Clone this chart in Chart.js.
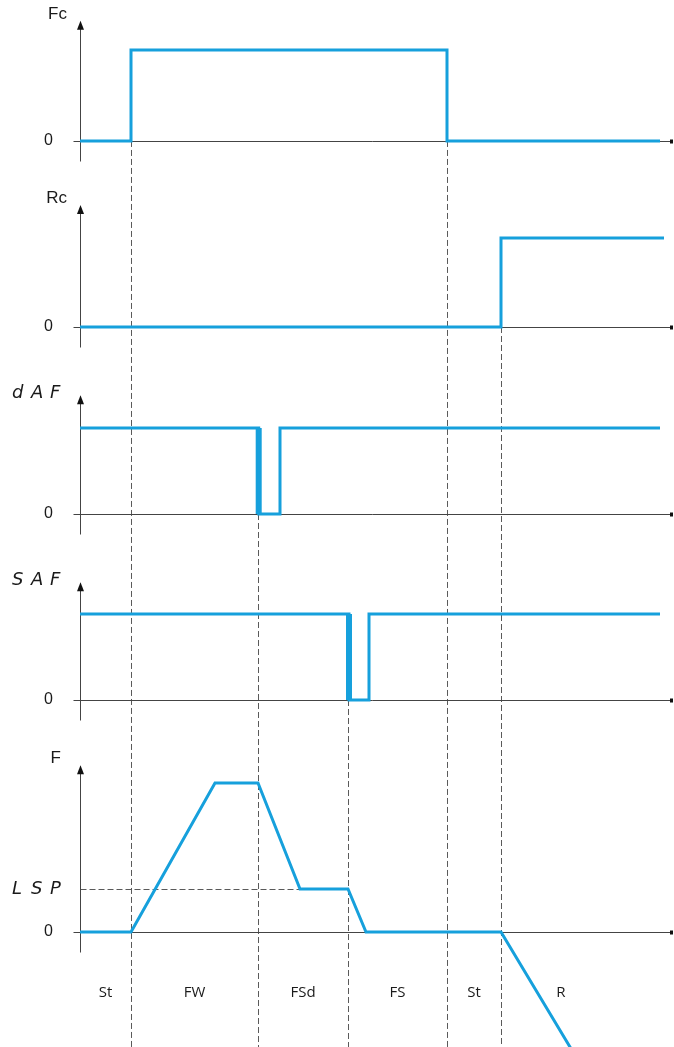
<!DOCTYPE html>
<html>
<head>
<meta charset="utf-8">
<script src="https://cdn.jsdelivr.net/npm/chart.js@4/dist/chart.umd.min.js"></script>
<style>
  html, body { margin: 0; padding: 0; background: #fff; }
  #wrap { width: 674px; height: 1047px; }
</style>
</head>
<body>
<div id="wrap"><canvas id="timing" width="674" height="1047"></canvas></div>
<script>
// time is in arbitrary units, 0 = the vertical axis. levels: 0 = off, 1 = on / top speed
const fcTime   = [0, 5.1, 5.1, 36.7, 36.7, 58.0];
const fcLevel  = [0, 0,   1,   1,    0,    0];

const rcTime   = [0, 42.1, 42.1, 58.4];
const rcLevel  = [0, 0,    1,    1];

const dafTime  = [0, 17.87, 17.87, 20.0, 20.0, 58.0];
const dafLevel = [1, 1,     0,     0,    1,    1];
const dafEdge  = [17.87, 17.87];   // the falling edge is drawn heavier

const safTime  = [0, 26.9, 26.9, 28.9, 28.9, 58.0];
const safLevel = [1, 1,    0,    0,    1,    1];
const safEdge  = [26.9, 26.9];
const edgeLevel = [1, 0];

const lspLevel = 0.289;
const fTime    = [0, 5.1, 13.5, 17.8, 22.0,     26.8,     28.6, 42.1, 49.0,   51.0];
const fLevel   = [0, 0,   1,    1,    lspLevel, lspLevel, 0,    0,    -0.772, -1.0];

// phases along the bottom (label sits in the middle of each span)
const phaseNames = ["St", "FW", "FSd", "FS", "St", "R"];
const phaseEdges = [0, 5.1, 17.8, 26.8, 36.7, 42.1, 54.1];

// dashed event lines: time and the panel where the change starts
const eventTimes  = [5.1, 17.8, 26.8, 36.7, 42.1];
const eventPanels = ["fc", "daf", "saf", "fc", "rc"];

// panel layout (axis ids, titles, axis ranges)
const panels = [
  { id: "fc",  title: "Fc",  seg: false, min: -0.374, max: 1.549, top: 1.32, h: 175, w: 5 },
  { id: "rc",  title: "Rc",  seg: false, min: -0.382, max: 1.708, top: 1.37, h: 186, w: 4 },
  { id: "daf", title: "dAF", seg: true,  min: -0.395, max: 1.779, top: 1.38, h: 187, w: 3 },
  { id: "saf", title: "SAF", seg: true,  min: -0.395, max: 1.767, top: 1.37, h: 186, w: 2 },
  { id: "f",   title: "F",   seg: false, min: -0.772, max: 1.329, top: 1.12, h: 313, w: 1 }
];

const blue = "#16a0dc";

function toPoints(ts, ys) {
  return ts.map((t, i) => ({ x: t, y: ys[i] }));
}

function lineSet(id, ts, ys, width) {
  return {
    data: toPoints(ts, ys),
    yAxisID: id,
    borderColor: blue,
    borderWidth: width || 3,
    pointRadius: 0,
    tension: 0,
    fill: false,
    borderJoinStyle: "miter",
    borderCapStyle: "butt"
  };
}

// draws axes, arrows, dashed guides and all the text
const decor = {
  id: "decor",
  beforeDatasetsDraw(chart) {
    const ctx = chart.ctx;
    const xs = chart.scales.x;
    const area = chart.chartArea;
    const axX = Math.round(xs.getPixelForValue(0)) + 0.5;

    ctx.save();
    // dashed event lines
    ctx.strokeStyle = "#5a5a5a";
    ctx.lineWidth = 1;
    ctx.setLineDash([6, 3]);
    eventTimes.forEach((t, i) => {
      const px = Math.round(xs.getPixelForValue(t)) + 0.5;
      const y0 = chart.scales[eventPanels[i]].getPixelForValue(0);
      ctx.beginPath();
      ctx.moveTo(px, y0);
      ctx.lineTo(px, area.bottom);
      ctx.stroke();
    });
    // LSP guide
    const fs = chart.scales.f;
    const ly = Math.round(fs.getPixelForValue(lspLevel)) + 0.5;
    ctx.beginPath();
    ctx.moveTo(axX, ly);
    ctx.lineTo(xs.getPixelForValue(22.0), ly);
    ctx.stroke();
    ctx.setLineDash([]);

    panels.forEach(p => {
      const s = chart.scales[p.id];
      const zy = Math.round(s.getPixelForValue(0)) + 0.5;
      const ty = s.getPixelForValue(p.top);
      ctx.strokeStyle = "#444";
      ctx.lineWidth = 1;
      // vertical axis
      ctx.beginPath();
      ctx.moveTo(axX, ty + 4);
      ctx.lineTo(axX, zy + 20);
      ctx.stroke();
      // zero line
      ctx.beginPath();
      ctx.moveTo(axX - 7, zy);
      ctx.lineTo(area.right - 3, zy);
      ctx.stroke();
      ctx.fillStyle = "#111";
      ctx.beginPath();
      ctx.moveTo(axX, ty);
      ctx.lineTo(axX - 3.5, ty + 9);
      ctx.lineTo(axX + 3.5, ty + 9);
      ctx.closePath();
      ctx.fill();
      ctx.fillRect(area.right - 4, zy - 2, 3, 4);
    });
    ctx.restore();
  },
  afterDraw(chart) {
    const ctx = chart.ctx;
    const xs = chart.scales.x;
    ctx.save();
    ctx.fillStyle = "#1a1a1a";
    ctx.textBaseline = "middle";

    panels.forEach(p => {
      const s = chart.scales[p.id];
      const zy = s.getPixelForValue(0);
      const ty = s.getPixelForValue(p.top);
      ctx.font = "16px 'Liberation Sans', Arial, sans-serif";
      ctx.textAlign = "right";
      ctx.fillText("0", 53, zy);
      if (p.seg) {
        ctx.font = "italic 300 18px 'DejaVu Sans', sans-serif";
        ctx.textAlign = "left";
        p.title.split("").forEach((ch, i) => ctx.fillText(ch, 12 + i * 19, ty - 2));
      } else {
        ctx.font = "17px 'Liberation Sans', Arial, sans-serif";
        ctx.textAlign = "right";
        ctx.fillText(p.title, p.id === "f" ? 61 : 67, ty - 7);
      }
    });

    // LSP label
    const ly = chart.scales.f.getPixelForValue(lspLevel);
    ctx.font = "italic 300 18px 'DejaVu Sans', sans-serif";
    ctx.textAlign = "left";
    "LSP".split("").forEach((ch, i) => ctx.fillText(ch, 12 + i * 19, ly));

    // phase names
    ctx.font = "15px 'Liberation Sans Narrow', 'Open Sans', sans-serif";
    ctx.textAlign = "center";
    phaseNames.forEach((name, i) => {
      const mid = (phaseEdges[i] + phaseEdges[i + 1]) / 2;
      ctx.fillText(name, xs.getPixelForValue(mid), 993);
    });
    ctx.restore();
  }
};

const scales = {
  x: { type: "linear", min: -8, max: 59.4, display: false }
};
panels.forEach(p => {
  scales[p.id] = {
    type: "linear",
    position: "left",
    stack: "panels",
    stackWeight: p.h,
    weight: p.w,
    min: p.min,
    max: p.max,
    bounds: "data",
    display: false
  };
});

new Chart(document.getElementById("timing"), {
  type: "line",
  data: {
    datasets: [
      lineSet("fc", fcTime, fcLevel),
      lineSet("rc", rcTime, rcLevel),
      lineSet("daf", dafTime, dafLevel),
      lineSet("daf", dafEdge, edgeLevel, 6),
      lineSet("saf", safTime, safLevel),
      lineSet("saf", safEdge, edgeLevel, 6),
      lineSet("f", fTime, fLevel)
    ]
  },
  options: {
    responsive: false,
    animation: false,
    devicePixelRatio: 1,
    layout: { padding: 0 },
    plugins: { legend: { display: false }, tooltip: { enabled: false } },
    scales: scales
  },
  plugins: [decor]
});
</script>
</body>
</html>
